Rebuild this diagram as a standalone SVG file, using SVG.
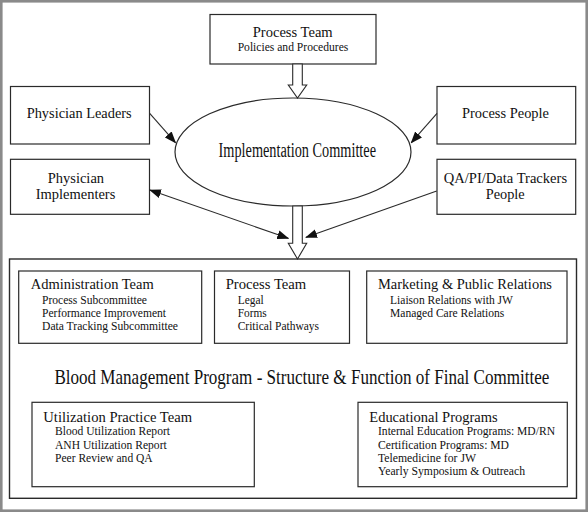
<svg xmlns="http://www.w3.org/2000/svg" width="588" height="512" viewBox="0 0 588 512">
<style>
text{font-family:"Liberation Serif","Times New Roman",serif;fill:#111}
.box{fill:#fff;stroke:#2a2a2a;stroke-width:1.2}
.big{fill:#fff;stroke:#2a2a2a;stroke-width:1.4}
.hollow{fill:#fff;stroke:#2a2a2a;stroke-width:1.1}
.conn{fill:none;stroke:#2a2a2a;stroke-width:1.1}
.c{text-anchor:middle}
.h{font-size:14.5px}
.i{font-size:11.8px}
.n{font-size:14.4px}
</style>
<defs>
<marker id="ah" markerUnits="userSpaceOnUse" markerWidth="12" markerHeight="10" refX="11" refY="4.5" orient="auto-start-reverse" viewBox="0 0 12 9">
<path d="M0,0 L12,4.5 L0,9 z" fill="#111"/>
</marker>
</defs>
<rect x="1.3" y="1.3" width="585.4" height="509.4" fill="#fff" stroke="#8a8a8a" stroke-width="2.6"/>

<g id="final-committee">
<rect class="big" x="9.5" y="259" width="567" height="239.3"/>
<text transform="translate(54.4,384) scale(0.812,1)" x="0" y="0" font-size="21" textLength="609.6" lengthAdjust="spacingAndGlyphs">Blood Management Program - Structure &amp; Function of Final Committee</text>
</g>

<g id="process-team-top">
<rect class="box" x="210" y="14.5" width="166" height="49.5"/>
<text class="c" x="292.7" y="37" font-size="15" textLength="80" lengthAdjust="spacingAndGlyphs">Process Team</text>
<text class="c" x="293" y="50.7" font-size="12" textLength="110.7" lengthAdjust="spacingAndGlyphs">Policies and Procedures</text>
</g>

<g id="implementation-committee">
<ellipse class="box" cx="293" cy="152" rx="118" ry="54"/>
<text class="c" x="297.3" y="157.3" font-size="20" textLength="157.4" lengthAdjust="spacingAndGlyphs">Implementation Committee</text>
</g>

<g id="physician-leaders">
<rect class="box" x="10.5" y="86.5" width="139" height="57.5"/>
<text class="c n" x="79.2" y="118.3" textLength="105" lengthAdjust="spacingAndGlyphs">Physician Leaders</text>
</g>

<g id="process-people">
<rect class="box" x="437" y="86.5" width="138.7" height="57.5"/>
<text class="c n" x="505.5" y="118.3" textLength="87" lengthAdjust="spacingAndGlyphs">Process People</text>
</g>

<g id="physician-implementers">
<rect class="box" x="10.5" y="159.3" width="139" height="55"/>
<text class="c n" x="75.9" y="182.7" textLength="56.3" lengthAdjust="spacingAndGlyphs">Physician</text>
<text class="c n" x="75.5" y="199.3" textLength="79.6" lengthAdjust="spacingAndGlyphs">Implementers</text>
</g>

<g id="qa-people">
<rect class="box" x="437" y="159.3" width="138.7" height="55"/>
<text class="c n" x="505.4" y="182.7" textLength="123.3" lengthAdjust="spacingAndGlyphs">QA/PI/Data Trackers</text>
<text class="c n" x="505.2" y="199.3" textLength="39" lengthAdjust="spacingAndGlyphs">People</text>
</g>

<g id="administration-team">
<rect class="box" x="18.7" y="271" width="183" height="72.3"/>
<text class="h" x="30.7" y="289.3" textLength="123" lengthAdjust="spacingAndGlyphs">Administration Team</text>
<text class="i" x="42" y="304" textLength="105" lengthAdjust="spacingAndGlyphs">Process Subcommittee</text>
<text class="i" x="42" y="316.7" textLength="124" lengthAdjust="spacingAndGlyphs">Performance Improvement</text>
<text class="i" x="42" y="330" textLength="136" lengthAdjust="spacingAndGlyphs">Data Tracking Subcommittee</text>
</g>

<g id="process-team-final">
<rect class="box" x="214.5" y="271" width="135" height="72.3"/>
<text class="h" x="225.7" y="289.3" textLength="80.6" lengthAdjust="spacingAndGlyphs">Process Team</text>
<text class="i" x="237.7" y="304" textLength="26" lengthAdjust="spacingAndGlyphs">Legal</text>
<text class="i" x="237.7" y="316.7" textLength="29" lengthAdjust="spacingAndGlyphs">Forms</text>
<text class="i" x="237.7" y="330" textLength="81.4" lengthAdjust="spacingAndGlyphs">Critical Pathways</text>
</g>

<g id="marketing">
<rect class="box" x="366.7" y="271" width="200.3" height="72.3"/>
<text class="h" x="378" y="289.3" textLength="174" lengthAdjust="spacingAndGlyphs">Marketing &amp; Public Relations</text>
<text class="i" x="390" y="304" textLength="123" lengthAdjust="spacingAndGlyphs">Liaison Relations with JW</text>
<text class="i" x="390" y="316.7" textLength="114.3" lengthAdjust="spacingAndGlyphs">Managed Care Relations</text>
</g>

<g id="utilization-practice-team">
<rect class="box" x="32" y="402.3" width="222.3" height="84.4"/>
<text class="h" x="43.3" y="421.7" textLength="148.7" lengthAdjust="spacingAndGlyphs">Utilization Practice Team</text>
<text class="i" x="55" y="435" textLength="115" lengthAdjust="spacingAndGlyphs">Blood Utilization Report</text>
<text class="i" x="55" y="449" textLength="111.7" lengthAdjust="spacingAndGlyphs">ANH Utilization Report</text>
<text class="i" x="55" y="461.7" textLength="97.7" lengthAdjust="spacingAndGlyphs">Peer Review and QA</text>
</g>

<g id="educational-programs">
<rect class="box" x="358" y="402.3" width="209.3" height="84.4"/>
<text class="h" x="369.3" y="421.7" textLength="128.3" lengthAdjust="spacingAndGlyphs">Educational Programs</text>
<text class="i" x="378" y="435" textLength="177" lengthAdjust="spacingAndGlyphs">Internal Education Programs: MD/RN</text>
<text class="i" x="378" y="449" textLength="131" lengthAdjust="spacingAndGlyphs">Certification Programs: MD</text>
<text class="i" x="378" y="461.7" textLength="98" lengthAdjust="spacingAndGlyphs">Telemedicine for JW</text>
<text class="i" x="378" y="474.5" textLength="147" lengthAdjust="spacingAndGlyphs">Yearly Symposium &amp; Outreach</text>
</g>

<g id="connectors">
<polygon class="hollow" points="292.7,64 302.3,64 302.3,85 306.7,85 297.5,98 288.3,85 292.7,85"/>
<polygon class="hollow" points="292.7,206 302.3,206 302.3,243.3 306.7,243.3 297.5,259 288.3,243.3 292.7,243.3"/>
<line class="conn" x1="149.7" y1="113.3" x2="175.5" y2="142.7" marker-end="url(#ah)"/>
<line class="conn" x1="437" y1="113.3" x2="411.3" y2="142.7" marker-end="url(#ah)"/>
<line class="conn" x1="150" y1="190" x2="288.3" y2="238.3" marker-start="url(#ah)" marker-end="url(#ah)"/>
<line class="conn" x1="436.7" y1="191" x2="306" y2="237.3" marker-end="url(#ah)"/>
</g>
</svg>
